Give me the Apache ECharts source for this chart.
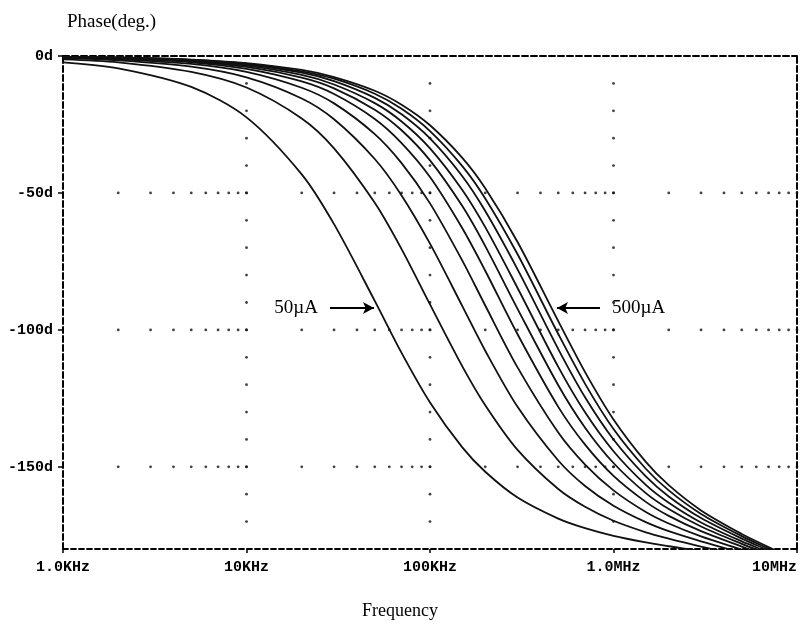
<!DOCTYPE html>
<html><head><meta charset="utf-8">
<script src="https://cdn.jsdelivr.net/npm/echarts@6/dist/echarts.min.js"></script>
<style>html,body{margin:0;padding:0;background:#fff}#c{width:800px;height:627px}</style>
</head><body><div id="c"></div>
<script>
// Frequency samples (kHz)
const freqKHz = [1,2,5,10,20,30,50,70,100,150,200,300,500,700,1000,1500,2000,3000,5000,7000,10000];
const curveNames = ['50µA','100µA','150µA','200µA','250µA','300µA','350µA','400µA','450µA','500µA'];
// Phase (deg) of each bias-current curve (values below -180 fall outside the frame)
const phase50  = [-2.3,-4.5,-11.3,-22.4,-43.2,-61.4,-89.4,-108.4,-126.5,-142.9,-151.8,-161.2,-168.9,-172.4,-175.2,-177.6,-179.0,-180.9,-183.6,-185.8,-188.9];
const phase100 = [-1.2,-2.3,-5.8,-11.5,-22.8,-33.7,-53.6,-70.5,-90.7,-113.3,-127.5,-143.8,-158.1,-164.6,-169.7,-173.9,-176.2,-179.1,-182.5,-185.0,-188.3];
const phase150 = [-0.8,-1.6,-3.9,-7.8,-15.5,-23.1,-37.6,-50.9,-68.5,-91.3,-107.6,-128.1,-147.7,-157.0,-164.2,-170.2,-173.5,-177.2,-181.4,-184.2,-187.8];
const phase200 = [-0.6,-1.2,-2.9,-5.8,-11.6,-17.3,-28.5,-39.1,-53.8,-74.7,-91.1,-113.7,-137.5,-149.2,-158.6,-166.5,-170.7,-175.4,-180.2,-183.4,-187.2];
const phase250 = [-0.5,-0.9,-2.3,-4.7,-9.3,-13.9,-23.0,-31.8,-44.2,-62.9,-78.4,-101.6,-128.1,-141.9,-153.3,-162.8,-167.9,-173.5,-179.1,-182.6,-186.6];
const phase300 = [-0.4,-0.8,-2.0,-4.0,-7.9,-11.8,-19.6,-27.1,-38.1,-54.8,-69.4,-92.3,-120.2,-135.7,-148.6,-159.6,-165.4,-171.8,-178.1,-181.9,-186.1];
const phase350 = [-0.3,-0.7,-1.7,-3.5,-6.9,-10.4,-17.2,-23.9,-33.7,-48.9,-62.5,-84.7,-113.5,-130.1,-144.3,-156.6,-163.1,-170.3,-177.2,-181.2,-185.7];
const phase400 = [-0.3,-0.6,-1.5,-3.1,-6.1,-9.2,-15.3,-21.3,-30.1,-43.9,-56.6,-77.9,-107.0,-124.6,-140.0,-153.5,-160.8,-168.7,-176.2,-180.5,-185.2];
const phase450 = [-0.3,-0.6,-1.4,-2.8,-5.6,-8.3,-13.8,-19.3,-27.4,-40.2,-52.0,-72.4,-101.5,-119.7,-136.2,-150.7,-158.6,-167.2,-175.3,-179.9,-184.7];
const phase500 = [-0.3,-0.5,-1.3,-2.6,-5.1,-7.7,-12.7,-17.8,-25.3,-37.2,-48.3,-67.9,-96.8,-115.4,-132.7,-148.2,-156.7,-165.9,-174.5,-179.3,-184.3];
const phaseCurves = [phase50,phase100,phase150,phase200,phase250,phase300,phase350,phase400,phase450,phase500];

// Axis ticks
const xTickValues = [1,10,100,1000,10000];
const xTickLabels = ['1.0KHz','10KHz','100KHz','1.0MHz','10MHz'];
const yTickValues = [0,-50,-100,-150];
const yTickLabels = ['0d','-50d','-100d','-150d'];
const yMin = -180, yMax = 0;

// Annotation arrows: [label, fromKHz, toKHz, phase]
const arrowLow  = ['50µA', 28.5, 49.5, -92];
const arrowHigh = ['500µA', 844, 492, -92];

// grid dots (PSpice-style dotted grid) derived from tick values
const dots = [];
const minorMult = [2,3,4,5,6,7,8,9,10];
[-50,-100,-150].forEach(y => {
  xTickValues.slice(0,4).forEach(d => minorMult.forEach(m => dots.push([d*m, y])));
});
xTickValues.slice(1,4).forEach(x => {
  for (let y = -10; y > yMin; y -= 10) dots.push([x, y]);
});

const monoFont = 'Liberation Mono';
const serif = 'Liberation Serif';
const dashed = {color:'#000', width:2, type:[6,3]};

const series = phaseCurves.map((arr, i) => ({
  name: curveNames[i], type:'line', smooth:0.3, showSymbol:false, clip:true,
  data: freqKHz.map((f, j) => [f, arr[j]]),
  lineStyle:{color:'#111', width:1.8}, silent:true, z:3
}));

function arrowMark(a){
  return [{coord:[a[1], a[3]], label:{formatter:a[0]}}, {coord:[a[2], a[3]]}];
}
series[0].markLine = {
  silent:true, symbol:['none','arrow'], symbolSize:[9,11], animation:false,
  lineStyle:{color:'#000', width:2, type:'solid'},
  label:{show:true, position:'start', distance:12, fontFamily:serif, fontSize:19, color:'#000'},
  data:[arrowMark(arrowLow), arrowMark(arrowHigh)]
};
series.push({type:'scatter', data:dots, symbolSize:2.8, itemStyle:{color:'#111'}, silent:true, z:1});

const chart = echarts.init(document.getElementById('c'), null, {renderer:'canvas'});
chart.setOption({
  animation:false,
  backgroundColor:'#fff',
  title:[
    {text:'Phase(deg.)', left:62, top:8, textStyle:{fontFamily:serif, fontSize:19, fontWeight:'normal', color:'#000'}},
    {text:'Frequency', left:'center', top:597, textStyle:{fontFamily:serif, fontSize:18, fontWeight:'normal', color:'#000'}}
  ],
  grid:{left:63, right:3, top:56, bottom:78},
  xAxis:[
    {type:'log', logBase:10, min:1, max:10000, position:'bottom',
     axisLine:{show:true, onZero:false, lineStyle:{color:'#000', width:1.8, type:[5,3]}},
     axisTick:{show:true, length:4, lineStyle:{color:'#000', width:1.5}},
     axisLabel:{margin:11, fontFamily:monoFont, fontWeight:'bold', fontSize:15, color:'#000', alignMaxLabel:'right',
       formatter:v => { const i = xTickValues.findIndex(t => Math.abs(Math.log10(t) - Math.log10(v)) < 1e-6); return i >= 0 ? xTickLabels[i] : ''; }},
     splitLine:{show:false}, minorTick:{show:false}},
    {type:'log', logBase:10, min:1, max:10000, position:'top',
     axisLine:{show:true, onZero:false, lineStyle:dashed}, axisTick:{show:false}, axisLabel:{show:false}, splitLine:{show:false}}
  ],
  yAxis:[
    {type:'value', min:yMin, max:yMax, position:'left',
     axisLine:{show:true, onZero:false, lineStyle:dashed},
     axisTick:{show:true, length:5, customValues:yTickValues, lineStyle:{color:'#000', width:1.5}},
     axisLabel:{margin:10, fontFamily:monoFont, fontWeight:'bold', fontSize:15, color:'#000', customValues:yTickValues,
       formatter:v => { const i = yTickValues.indexOf(Math.round(v)); return i >= 0 ? yTickLabels[i] : ''; }},
     splitLine:{show:false}},
    {type:'value', min:yMin, max:yMax, position:'right',
     axisLine:{show:true, onZero:false, lineStyle:dashed}, axisTick:{show:false}, axisLabel:{show:false}, splitLine:{show:false}}
  ],
  series: series
});
</script></body></html>
